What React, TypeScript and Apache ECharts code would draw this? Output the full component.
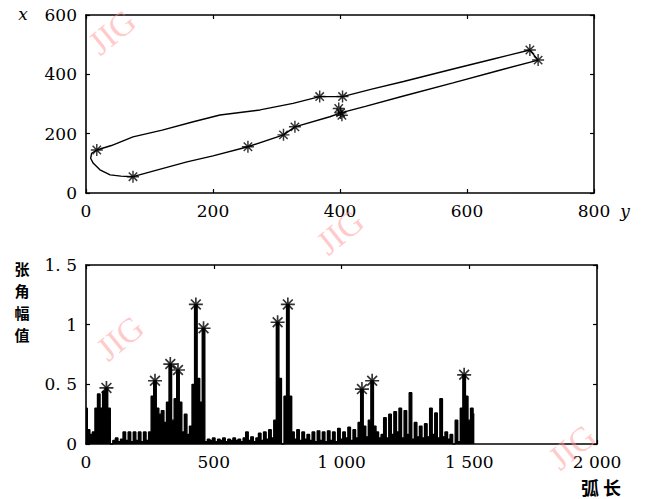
import React, { useEffect, useRef } from "react";
import * as echarts from "echarts";

// ---------- top panel: contour (horizontal axis "y", vertical axis "x") ----------
const contourY = [17, 40, 74, 120, 169, 211, 274, 326, 368, 404, 450, 500, 578, 640, 699, 712, 650, 578, 500, 440, 401, 384, 329, 311, 255, 200, 159, 120, 74, 55, 38, 22, 11.5, 7.3, 8.9, 17];
const contourX = [145, 160, 189, 212, 240, 263, 280, 302, 325, 325, 350, 376, 418, 451, 482, 448, 413, 371, 327, 292, 270, 257, 223, 196, 156, 125, 105, 82, 55, 57, 61, 78, 100, 117, 134, 145];
const keyPointY = [17, 74, 255, 311, 329, 368, 404, 398, 401, 403, 699, 712];
const keyPointX = [145, 55, 156, 196, 223, 325, 325, 285, 270, 262, 482, 448];
const topHorizTicks = [0, 200, 400, 600, 800];
const topVertTicks = [0, 200, 400, 600];

// ---------- bottom panel: opening-angle amplitude vs arc length ----------
const ARC_STEP = 10;
const amplitude = [
  0.30, 0.12, 0.08, 0.10, 0.30, 0.42, 0.30, 0.44, 0.47, 0.30,
  0.00, 0.03, 0.05, 0.02, 0.04, 0.10, 0.03, 0.10, 0.02, 0.10,
  0.03, 0.10, 0.02, 0.10, 0.03, 0.10, 0.40, 0.53, 0.30, 0.25,
  0.28, 0.18, 0.35, 0.67, 0.20, 0.38, 0.62, 0.35, 0.10, 0.25,
  0.08, 0.15, 0.50, 1.17, 0.55, 0.35, 0.97, 0.02, 0.04, 0.03,
  0.05, 0.02, 0.04, 0.03, 0.05, 0.02, 0.04, 0.03, 0.05, 0.03,
  0.04, 0.02, 0.05, 0.10, 0.03, 0.06, 0.02, 0.05, 0.09, 0.03,
  0.10, 0.04, 0.12, 0.05, 0.20, 1.02, 0.55, 0.00, 0.40, 1.17,
  0.40, 0.10, 0.04, 0.12, 0.03, 0.10, 0.04, 0.08, 0.03, 0.10,
  0.02, 0.11, 0.03, 0.10, 0.02, 0.11, 0.03, 0.10, 0.02, 0.13,
  0.04, 0.10, 0.05, 0.14, 0.03, 0.12, 0.05, 0.18, 0.46, 0.15,
  0.06, 0.20, 0.53, 0.15, 0.10, 0.05, 0.08, 0.22, 0.05, 0.25,
  0.08, 0.27, 0.10, 0.30, 0.05, 0.28, 0.08, 0.43, 0.04, 0.18,
  0.06, 0.15, 0.05, 0.17, 0.06, 0.30, 0.08, 0.26, 0.05, 0.38,
  0.06, 0.10, 0.04, 0.08, 0.00, 0.20, 0.02, 0.30, 0.58, 0.40,
  0.20, 0.30, 0.25,
];
const peakArc = [80, 270, 330, 360, 430, 460, 750, 790, 1080, 1120, 1480];
const bottomArcTicks = ["0", "500", "1 000", "1 500", "2 000"];
const bottomAmpTicks = ["0", "0. 5", "1", "1. 5"];
const amplitudeLabelChars = ["张", "角", "幅", "值"];

const ASTERISK =
  "path://M-1.2,-10L1.2,-10L1.2,10L-1.2,10Z M-10,-1.2L10,-1.2L10,1.2L-10,1.2Z " +
  "M-6.15,-7.85L7.85,6.15L6.15,7.85L-7.85,-6.15Z M6.15,-7.85L7.85,-6.15L-6.15,7.85L-7.85,6.15Z";

const FONT = "DejaVu Serif";
const INK = "#000";

function frameAxis(kind: "x" | "y", gridIndex: number, position: string, min: number, max: number, interval: number, showLabel: boolean, fmt?: (v: number) => string) {
  return {
    type: "value",
    gridIndex,
    position,
    min,
    max,
    interval,
    axisLine: { show: true, onZero: false, lineStyle: { color: INK, width: 1.6 } },
    axisTick: { show: true, inside: true, length: 4, lineStyle: { color: INK, width: 1.2 } },
    splitLine: { show: false },
    axisLabel: {
      show: showLabel,
      color: INK,
      fontFamily: FONT,
      fontSize: 17,
      margin: kind === "x" ? 9 : 9,
      formatter: fmt,
    },
  } as any;
}

export default function App() {
  const ref = useRef<HTMLDivElement>(null);
  useEffect(() => {
    if (!ref.current) return;
    const chart = echarts.init(ref.current, undefined, { renderer: "svg" });

    const contour = contourY.map((y, i) => [y, contourX[i]]);
    const keys = keyPointY.map((y, i) => [y, keyPointX[i]]);
    const signal = amplitude.map((v, i) => [i * ARC_STEP, v]);
    const peaks = peakArc.map((a) => [a, amplitude[Math.round(a / ARC_STEP)]]);

    const arcFmt = (v: number) => bottomArcTicks[Math.round(v / 500)] ?? "";
    const ampFmt = (v: number) => bottomAmpTicks[Math.round(v / 0.5)] ?? "";

    const wm = (x: number, y: number) => ({
      type: "text",
      x,
      y,
      rotation: 0.68,
      z: 100,
      style: {
        text: "JIG",
        fontFamily: "Liberation Serif",
        fontSize: 34,
        fill: "rgba(255,150,150,0.5)",
        align: "center",
        verticalAlign: "middle",
      },
    });

    chart.setOption({
      animation: false,
      backgroundColor: "#fff",
      grid: [
        { left: 86, top: 15, width: 508, height: 178 },
        { left: 86, top: 265, width: 511, height: 179 },
      ],
      xAxis: [
        frameAxis("x", 0, "bottom", topHorizTicks[0], topHorizTicks[topHorizTicks.length - 1], 200, true),
        frameAxis("x", 0, "top", 0, 800, 200, false),
        frameAxis("x", 1, "bottom", 0, 2000, 500, true, arcFmt),
        frameAxis("x", 1, "top", 0, 2000, 500, false),
      ],
      yAxis: [
        frameAxis("y", 0, "left", topVertTicks[0], topVertTicks[topVertTicks.length - 1], 200, true),
        frameAxis("y", 0, "right", 0, 600, 200, false),
        frameAxis("y", 1, "left", 0, 1.5, 0.5, true, ampFmt),
        frameAxis("y", 1, "right", 0, 1.5, 0.5, false),
      ],
      series: [
        {
          type: "line",
          xAxisIndex: 0,
          yAxisIndex: 0,
          data: contour,
          symbol: "none",
          lineStyle: { color: INK, width: 1.4 },
        },
        {
          type: "scatter",
          xAxisIndex: 0,
          yAxisIndex: 0,
          data: keys,
          symbol: ASTERISK,
          symbolSize: 12,
          itemStyle: { color: INK },
        },
        {
          type: "line",
          xAxisIndex: 2,
          yAxisIndex: 2,
          data: signal,
          symbol: "none",
          step: "middle",
          lineStyle: { color: INK, width: 1.4 },
          areaStyle: { color: INK, opacity: 1 },
        },
        {
          type: "scatter",
          xAxisIndex: 2,
          yAxisIndex: 2,
          data: peaks,
          symbol: ASTERISK,
          symbolSize: 14,
          itemStyle: { color: INK },
        },
      ],
      graphic: [
        {
          type: "text",
          x: 23,
          y: 14,
          style: { text: "x", fontFamily: FONT, fontStyle: "italic", fontSize: 17, fill: INK, align: "center", verticalAlign: "middle" },
        },
        {
          type: "text",
          x: 625,
          y: 211,
          style: { text: "y", fontFamily: FONT, fontStyle: "italic", fontSize: 17, fill: INK, align: "center", verticalAlign: "middle" },
        },
        ...amplitudeLabelChars.map((ch, i) => ({
          type: "text",
          x: 22,
          y: 268 + i * 22,
          style: {
            text: ch,
            fontFamily: "Noto Sans CJK SC",
            fontWeight: "bold",
            fontSize: 15,
            fill: INK,
            align: "center",
            verticalAlign: "middle",
          },
        })),
        {
          type: "text",
          x: 601,
          y: 487,
          style: {
            text: "弧 长",
            fontFamily: "Noto Sans CJK SC",
            fontWeight: "bold",
            fontSize: 18,
            fill: INK,
            align: "center",
            verticalAlign: "middle",
          },
        },
        wm(112, 32),
        wm(340, 232),
        wm(120, 338),
        wm(572, 447),
      ],
    });
    return () => chart.dispose();
  }, []);

  return (
    <div
      ref={ref}
      style={{ position: "fixed", left: 0, top: 0, width: 646, height: 499, background: "#fff" }}
    />
  );
}
